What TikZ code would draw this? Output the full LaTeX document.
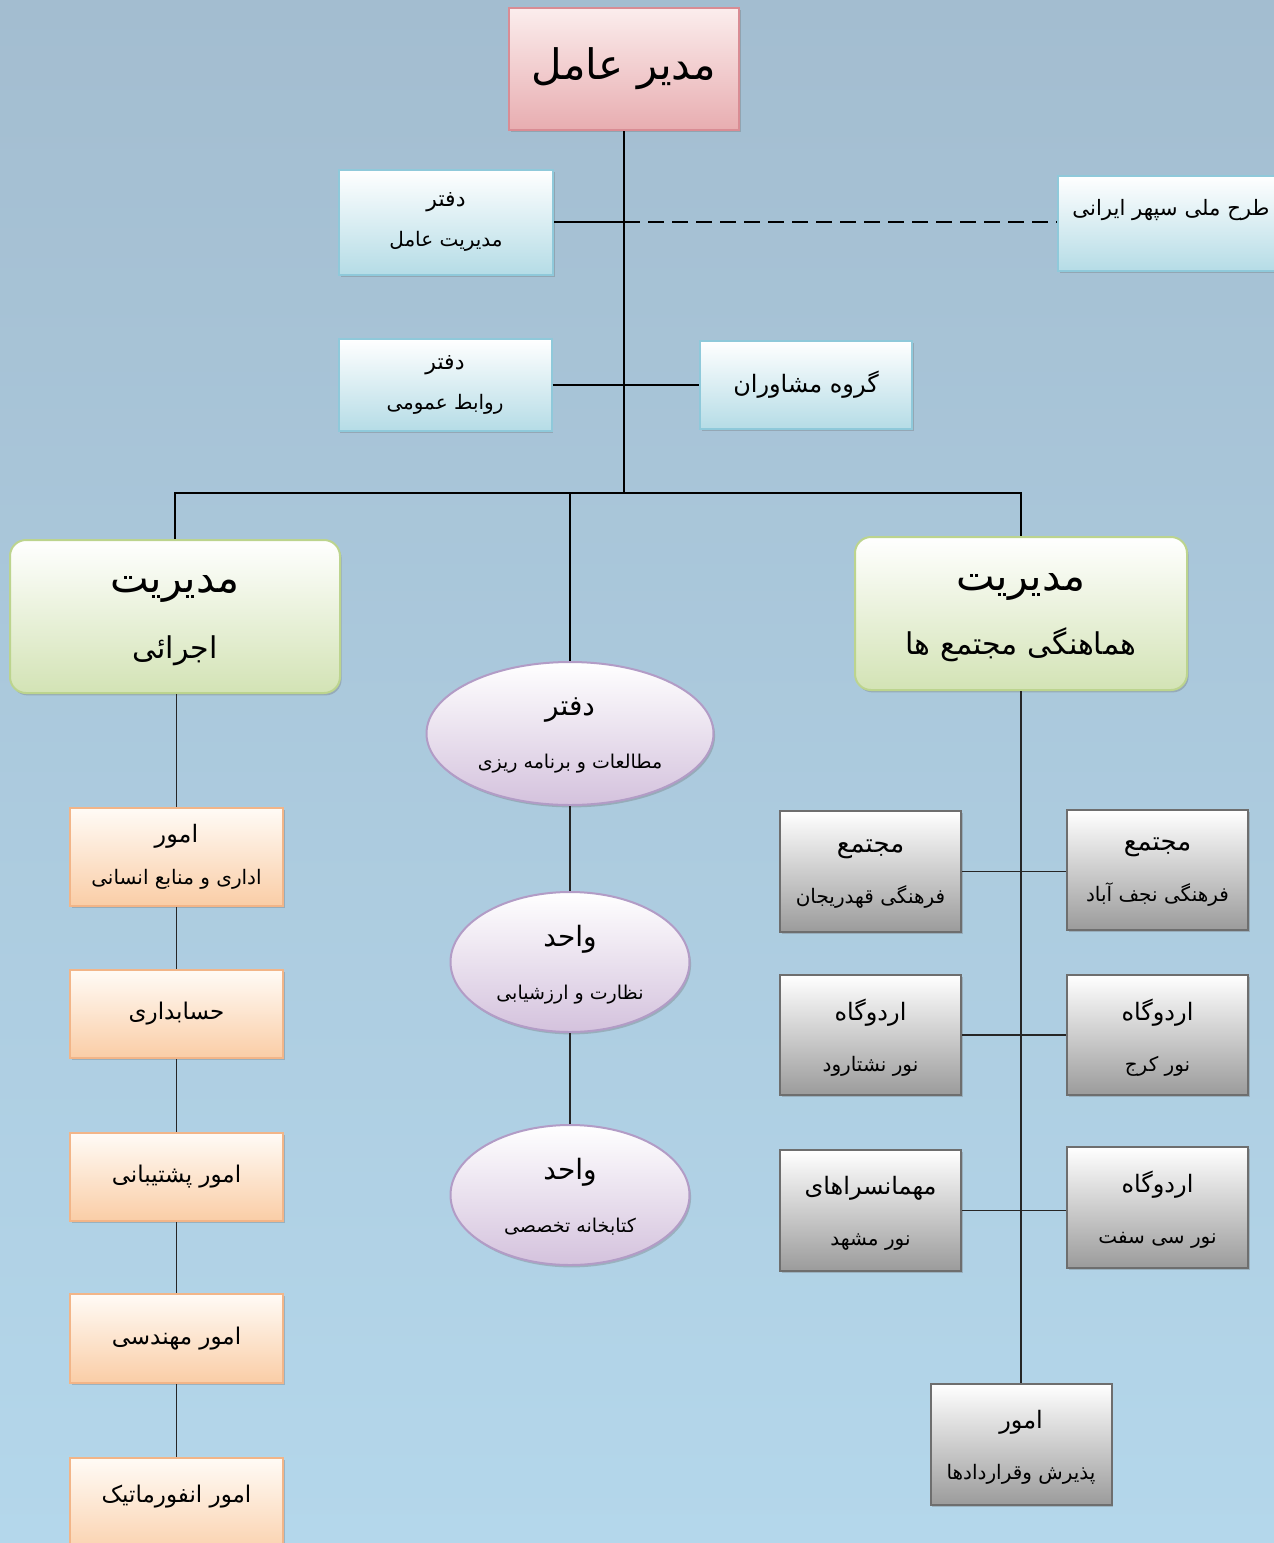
\documentclass[tikz,border=0pt]{standalone}
\usepackage{fontspec}
\usetikzlibrary{shapes.geometric,shadows}
\TeXXeTstate=1
\newfontfamily\arabicfont[Script=Arabic]{DejaVu Sans}
\newcommand\prs[2]{{\arabicfont\fontsize{#1}{#1}\selectfont #2}}
\definecolor{bgtop}{HTML}{A3BDD0}
\definecolor{bgbot}{HTML}{B4D7EB}
\definecolor{pinkT}{HTML}{FBEDED}\definecolor{pinkB}{HTML}{E8ADB0}\definecolor{pinkD}{HTML}{D98C94}
\definecolor{cyanT}{HTML}{FFFFFF}\definecolor{cyanB}{HTML}{B5DCE6}\definecolor{cyanD}{HTML}{8FC9DA}
\definecolor{grnT}{HTML}{FFFFFF}\definecolor{grnB}{HTML}{D3E3B5}\definecolor{grnD}{HTML}{BCD48E}
\definecolor{purT}{HTML}{FFFFFF}\definecolor{purB}{HTML}{D4C2DD}\definecolor{purD}{HTML}{B29CC6}
\definecolor{orT}{HTML}{FFFBF6}\definecolor{orB}{HTML}{FACDA6}\definecolor{orD}{HTML}{F2B588}
\definecolor{grT}{HTML}{FFFFFF}\definecolor{grB}{HTML}{9B9B9B}\definecolor{grD}{HTML}{6E6E6E}
\tikzset{
  px/.style={x=0.5pt,y=-0.5pt},
  shad/.style={drop shadow={shadow xshift=0.8pt, shadow yshift=-1.2pt, opacity=0.3, fill=black!60}},
  base/.style={inner sep=0pt, align=center, font=\fontsize{10}{20}\selectfont, shad},
  two/.style={text depth=-4pt},
  pinkbox/.style={base, draw=pinkD, line width=1pt, top color=pinkT, bottom color=pinkB},
  cyanbox/.style={base, draw=cyanD, line width=1pt, top color=cyanT, bottom color=cyanB},
  greenbox/.style={base, two, draw=grnD, line width=1pt, rounded corners=8pt, top color=grnT, bottom color=grnB},
  purplebox/.style={base, two, ellipse, draw=purD, line width=1pt, top color=purT, bottom color=purB},
  orangebox/.style={base, draw=orD, line width=1pt, top color=orT, bottom color=orB},
  graybox/.style={base, two, draw=grD, line width=1pt, top color=grT, bottom color=grB},
  trunk/.style={line width=1.3pt, black},
  thin/.style={line width=0.7pt, black!85},
}
\begin{document}
\begin{tikzpicture}[px]
\useasboundingbox (0,0) rectangle (1274,1543);
\clip (0,0) rectangle (1274,1543);
\fill[top color=bgtop, bottom color=bgbot] (0,0) rectangle (1274,1543);

% top level
\node[pinkbox, minimum width=115pt, minimum height=61pt] (ceo) at (624,69) {\prs{21}{\beginR مدیر عامل\endR}};
\node[cyanbox, minimum width=107pt, minimum height=52.5pt] (dme) at (446,222) {\prs{11}{\beginR دفتر\endR}\\\prs{10}{\beginR مدیریت عامل\endR}};
\node[cyanbox, minimum width=113pt, minimum height=47.5pt, text depth=16pt] (tarh) at (1171,223.5) {\prs{10.6}{\beginR طرح ملی سپهر ایرانی\endR}};
\node[cyanbox, minimum width=106.5pt, minimum height=46pt] (rav) at (445,385) {\prs{11}{\beginR دفتر\endR}\\\prs{10}{\beginR روابط عمومی\endR}};
\node[cyanbox, minimum width=106pt, minimum height=44pt] (mosh) at (806,385) {\prs{12}{\beginR گروه مشاوران\endR}};

% managers
\node[greenbox, minimum width=165pt, minimum height=76.5pt, font=\fontsize{10}{33}\selectfont] (ejr) at (175,616.5) {\prs{20.5}{\beginR مدیریت\endR}\\\prs{15}{\beginR اجرائی\endR}};
\node[greenbox, minimum width=166pt, minimum height=76.5pt, font=\fontsize{10}{32}\selectfont] (ham) at (1021,613.5) {\prs{20.5}{\beginR مدیریت\endR}\\\prs{15}{\beginR هماهنگی مجتمع ها\endR}};

% ellipses
\node[purplebox, minimum width=143.5pt, minimum height=71.5pt, font=\fontsize{10}{26.5}\selectfont] (e1) at (570,733.5) {\prs{14}{\beginR دفتر\endR}\\\prs{9.5}{\beginR مطالعات و برنامه ریزی\endR}};
\node[purplebox, minimum width=119.5pt, minimum height=70pt, font=\fontsize{10}{26.5}\selectfont] (e2) at (570,962) {\prs{14}{\beginR واحد\endR}\\\prs{9.5}{\beginR نظارت و ارزشیابی\endR}};
\node[purplebox, minimum width=119.5pt, minimum height=70pt, font=\fontsize{10}{26.5}\selectfont] (e3) at (570,1195) {\prs{14}{\beginR واحد\endR}\\\prs{9.5}{\beginR کتابخانه تخصصی\endR}};

% orange column
\node[orangebox, minimum width=106.5pt, minimum height=49pt, font=\fontsize{10}{21}\selectfont] (o1) at (176.5,857) {\prs{12}{\beginR امور\endR}\\\prs{10}{\beginR اداری و منابع انسانی\endR}};
\node[orangebox, minimum width=106.5pt, minimum height=44pt] (o2) at (176.5,1014) {\prs{11.5}{\beginR حسابداری\endR}};
\node[orangebox, minimum width=106.5pt, minimum height=44pt] (o3) at (176.5,1177) {\prs{11.5}{\beginR امور پشتیبانی\endR}};
\node[orangebox, minimum width=106.5pt, minimum height=44.5pt] (o4) at (176.5,1338.5) {\prs{11.5}{\beginR امور مهندسی\endR}};
\node[orangebox, minimum width=106.5pt, minimum height=52pt, text depth=16pt] (o5) at (176.5,1510) {\prs{11.5}{\beginR امور انفورماتیک\endR}};

% gray boxes
\node[graybox, minimum width=90.5pt, minimum height=60.5pt, font=\fontsize{10}{25.5}\selectfont] (g1l) at (870.5,871.5) {\prs{13}{\beginR مجتمع\endR}\\\prs{10}{\beginR فرهنگی قهدریجان\endR}};
\node[graybox, minimum width=90.5pt, minimum height=60pt, font=\fontsize{10}{25.5}\selectfont] (g1r) at (1157.5,870) {\prs{13}{\beginR مجتمع\endR}\\\prs{10}{\beginR فرهنگی نجف آباد\endR}};
\node[graybox, minimum width=90.5pt, minimum height=60pt, font=\fontsize{10}{25.5}\selectfont] (g2l) at (870.5,1035) {\prs{12}{\beginR اردوگاه\endR}\\\prs{10}{\beginR نور نشتارود\endR}};
\node[graybox, minimum width=90.5pt, minimum height=60pt, font=\fontsize{10}{25.5}\selectfont] (g2r) at (1157.5,1035) {\prs{12}{\beginR اردوگاه\endR}\\\prs{10}{\beginR نور کرج\endR}};
\node[graybox, minimum width=90.5pt, minimum height=60.5pt, font=\fontsize{10}{25.5}\selectfont] (g3l) at (870.5,1210.5) {\prs{12}{\beginR مهمانسراهای\endR}\\\prs{10}{\beginR نور مشهد\endR}};
\node[graybox, minimum width=90.5pt, minimum height=60.5pt, font=\fontsize{10}{25.5}\selectfont] (g3r) at (1157.5,1207.5) {\prs{12}{\beginR اردوگاه\endR}\\\prs{10}{\beginR نور سی سفت\endR}};
\node[graybox, minimum width=90.5pt, minimum height=60.5pt, font=\fontsize{10}{25.5}\selectfont] (bot) at (1021,1444.5) {\prs{12}{\beginR امور\endR}\\\prs{10}{\beginR پذیرش وقراردادها\endR}};

% connectors
\coordinate (bus) at (624,493);
\draw[trunk] (ceo.south) -- (bus);
\draw[trunk] (dme.east) -- (dme.east -| bus);
\draw[trunk, dash pattern=on 8pt off 4pt] (dme.east -| bus) -- (tarh.west |- dme.east);
\draw[trunk] (rav.east) -- (mosh.west);
\draw[trunk] (ejr.north) -- (ejr.north |- bus) -- (ham.north |- bus) -- (ham.north);
\draw[trunk] (bus -| e1.north) -- (e1.north);
\draw[thin] (e1.south) -- (e2.north);
\draw[thin] (e2.south) -- (e3.north);
\draw[thin] (o1.north |- ejr.south) -- (o1.north);
\draw[thin] (o1.south) -- (o2.north);
\draw[thin] (o2.south) -- (o3.north);
\draw[thin] (o3.south) -- (o4.north);
\draw[thin] (o4.south) -- (o5.north);
\draw[thin] (ham.south) -- (bot.north);
\draw[thin] (g1l.east) -- (g1r.west |- g1l.east);
\draw[thin] (g2l.east) -- (g2r.west);
\draw[thin] (g3l.east) -- (g3r.west |- g3l.east);
\end{tikzpicture}
\end{document}
